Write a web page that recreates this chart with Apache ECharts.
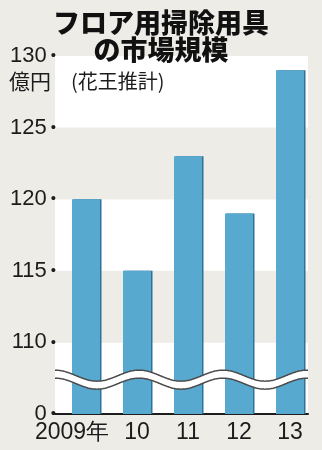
<!DOCTYPE html>
<html><head><meta charset="utf-8">
<script src="https://cdn.jsdelivr.net/npm/echarts@6/dist/echarts.min.js"></script>
<style>html,body{margin:0;padding:0;background:#edece7}#c{width:322px;height:450px}</style>
</head><body><div id="c"></div>
<script>
const categories = ['2009年', '10', '11', '12', '13'];
const values = [120, 115, 123, 119, 129];
const yMin = 105, yMax = 130, yStep = 5;   // 105 is drawn as "0" (axis break)
const breakValue = 107.4;                  // where the wavy break sits
const titleText = 'フロア用掃除用具\nの市場規模';
const unitText = '億円';
const noteText = '(花王推計)';

const chart = echarts.init(document.getElementById('c'));
const numFont = 'Liberation Sans';
const cjkFont = 'Noto Sans CJK JP';
const ink = '#1c1c1c';

chart.setOption({
  backgroundColor: '#edece7',
  animation: false,
  title: [
    { text: titleText, left: 'center', top: 4,
      textStyle: { fontFamily: cjkFont, fontSize: 27, fontWeight: 900, color: '#111', lineHeight: 27 } },
    { text: unitText, left: 4, top: 66,
      textStyle: { fontFamily: cjkFont, fontSize: 21, fontWeight: 'normal', color: ink } },
    { text: noteText, left: 66, top: 66,
      textStyle: { fontFamily: cjkFont, fontSize: 20, fontWeight: 'normal', color: ink } }
  ],
  grid: [
    { left: 55, right: 14, top: 56, bottom: 36 },
    { left: 60.5, right: 6.5, top: 56, bottom: 36 }
  ],
  xAxis: [
    { type: 'value', gridIndex: 0, min: 0, max: 1, show: true,
      axisLabel: { show: false }, axisTick: { show: false }, splitLine: { show: false },
      axisLine: { show: true, lineStyle: { color: ink, width: 2 } } },
    { type: 'category', gridIndex: 1,
      data: categories.map((c, i) => i === 0 ? { value: c, textStyle: { padding: [0, 28, 0, 0] } } : c),
      axisLine: { show: false }, axisTick: { show: false },
      axisLabel: { fontFamily: numFont, fontSize: 23, color: ink, margin: 7, interval: 0 } }
  ],
  yAxis: [
    { type: 'value', gridIndex: 0, min: yMin, max: yMax, interval: yStep,
      axisLine: { show: false }, axisTick: { show: false }, splitLine: { show: false },
      splitArea: { show: true, areaStyle: { color: ['#ffffff', '#edece7'] } },
      axisLabel: {
        margin: -1,
        formatter: v => '{n|' + (v === yMin ? '0' : v) + '}{d|•}',
        rich: {
          n: { fontFamily: numFont, fontSize: 22, color: ink },
          d: { fontFamily: numFont, fontSize: 15, color: ink, padding: [0, 0, 0, 4] }
        }
      } },
    { type: 'value', gridIndex: 1, min: yMin, max: yMax, interval: yStep, show: false }
  ],
  series: [
    { type: 'bar', xAxisIndex: 1, yAxisIndex: 1, data: values, barWidth: 28,
      itemStyle: { color: '#57a9cf', shadowColor: '#2f7295', shadowOffsetX: 1.5, shadowBlur: 0 } }
  ]
});

// wavy axis-break mark
const wx0 = chart.convertToPixel({ xAxisIndex: 0 }, 0);
const wx1 = chart.convertToPixel({ xAxisIndex: 0 }, 1);
const wyc = chart.convertToPixel({ yAxisIndex: 0 }, breakValue);
const waveTop = [], waveBot = [];
for (let x = wx0; x <= wx1 + 0.01; x += 1) {
  const y = wyc - 4 - 5.5 * Math.cos(2 * Math.PI * (x - wx0) / 84);
  waveTop.push([x, y]);
  waveBot.push([x, y + 8]);
}
chart.setOption({
  graphic: [
    { type: 'polygon', z: 100, shape: { points: waveTop.concat(waveBot.slice().reverse()) },
      style: { fill: '#ffffff' } },
    { type: 'polyline', z: 101, shape: { points: waveTop }, style: { stroke: '#4a4a4a', lineWidth: 1.5, fill: null } },
    { type: 'polyline', z: 101, shape: { points: waveBot }, style: { stroke: '#4a4a4a', lineWidth: 1.5, fill: null } }
  ]
});
</script></body></html>
